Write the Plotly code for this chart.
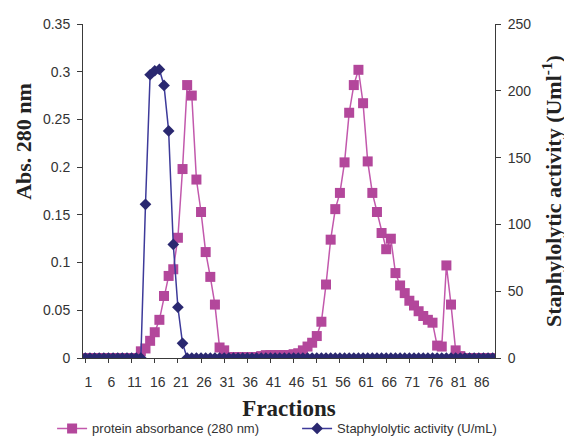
import plotly.graph_objects as go

fractions = list(range(1, 90))

protein_abs = (
    [0.0] * 12
    + [0.007, 0.010, 0.018, 0.027, 0.040, 0.065, 0.086, 0.093, 0.126, 0.198,
       0.286, 0.275, 0.187, 0.153, 0.111, 0.085, 0.056, 0.011, 0.008]
    + [0.001] * 7
    + [0.002, 0.003, 0.003, 0.003, 0.003, 0.003, 0.003, 0.004, 0.005, 0.008,
       0.012, 0.016, 0.023, 0.038, 0.077, 0.124, 0.156, 0.173, 0.205, 0.257,
       0.286, 0.302, 0.267, 0.206, 0.173, 0.153, 0.131, 0.114, 0.125, 0.089,
       0.076, 0.068, 0.060, 0.055, 0.049, 0.044, 0.040, 0.037, 0.013, 0.012,
       0.097, 0.056, 0.008, 0.002]
    + [0.0] * 7
)

activity = (
    [0] * 13
    + [115, 212, 215, 216, 204, 170, 85, 38, 11]
    + [0] * 67
)

x_tickvals = list(range(1, 87, 5))
x_ticktext = [str(v) for v in x_tickvals]
y_tickvals = [0, 0.05, 0.1, 0.15, 0.2, 0.25, 0.3, 0.35]
y_ticktext = ["0", "0.05", "0.1", "0.15", "0.2", "0.25", "0.3", "0.35"]
y2_tickvals = [0, 50, 100, 150, 200, 250]

MAG = "#B3479B"
MAG_LINE = "#C258AC"
NAVY = "#2A2870"
NAVY_LINE = "#3D3A9A"
AXC = "#3a3a3a"
TXT = "#333333"

fig = go.Figure()
fig.add_trace(go.Scatter(
    x=fractions, y=protein_abs, name="protein absorbance (280 nm)",
    mode="lines+markers",
    line=dict(color=MAG_LINE, width=1.5),
    marker=dict(symbol="square", size=10, color=MAG),
    yaxis="y",
))
fig.add_trace(go.Scatter(
    x=fractions, y=activity, name="Staphylolytic activity (U/mL)",
    mode="lines+markers",
    line=dict(color=NAVY_LINE, width=1.5),
    marker=dict(symbol="diamond", size=9, color=NAVY),
    yaxis="y2",
))

tickfont = dict(family="Liberation Sans, Arial, sans-serif", size=14, color=TXT)
serif = "Liberation Serif, Times New Roman, serif"

fig.update_layout(
    width=564, height=460,
    margin=dict(l=75, r=77, t=16, b=110),
    paper_bgcolor="white", plot_bgcolor="white",
    showlegend=True,
    legend=dict(
        orientation="h", x=-0.075, y=-0.166, xanchor="left", yanchor="top",
        font=dict(family="Liberation Sans, Arial, sans-serif", size=13, color=TXT),
        entrywidth=200, entrywidthmode="pixels",
        bgcolor="rgba(0,0,0,0)", itemwidth=30,
    ),
    xaxis=dict(
        range=[0.5, 89.5], tickvals=x_tickvals, ticktext=x_ticktext,
        showline=True, linecolor=AXC, linewidth=1,
        ticks="outside", ticklen=4, tickcolor=AXC,
        showgrid=False, zeroline=False, tickfont=tickfont,
        ticklabelshift=3, ticklabelstandoff=7, automargin=False,
        title=dict(text="<b>Fractions</b>", font=dict(family=serif, size=23, color="#222222"), standoff=11),
    ),
    yaxis=dict(
        range=[0, 0.35], tickvals=y_tickvals, ticktext=y_ticktext,
        showline=True, linecolor=AXC, linewidth=1,
        ticks="outside", ticklen=5, tickcolor=AXC,
        showgrid=False, zeroline=False, tickfont=tickfont,
        ticklabelstandoff=4, automargin=False,
    ),
    yaxis2=dict(
        range=[0, 250], tickvals=y2_tickvals,
        overlaying="y", side="right",
        showline=True, linecolor=AXC, linewidth=1,
        ticks="outside", ticklen=5, tickcolor=AXC,
        showgrid=False, zeroline=False, tickfont=tickfont,
        ticklabelstandoff=4, automargin=False,
        title=dict(text="<b>Staphylolytic activity (Uml<sup>-1</sup>)</b>",
                   font=dict(family=serif, size=22, color="#222222"),
                   standoff=15),
    ),
    annotations=[dict(
        text="<b>Abs. 280 nm</b>", textangle=-90,
        xref="paper", yref="paper", x=-0.145, y=0.648,
        xanchor="center", yanchor="middle", showarrow=False,
        font=dict(family=serif, size=22, color="#222222"),
    )],
)

fig.write_html("out.html")
